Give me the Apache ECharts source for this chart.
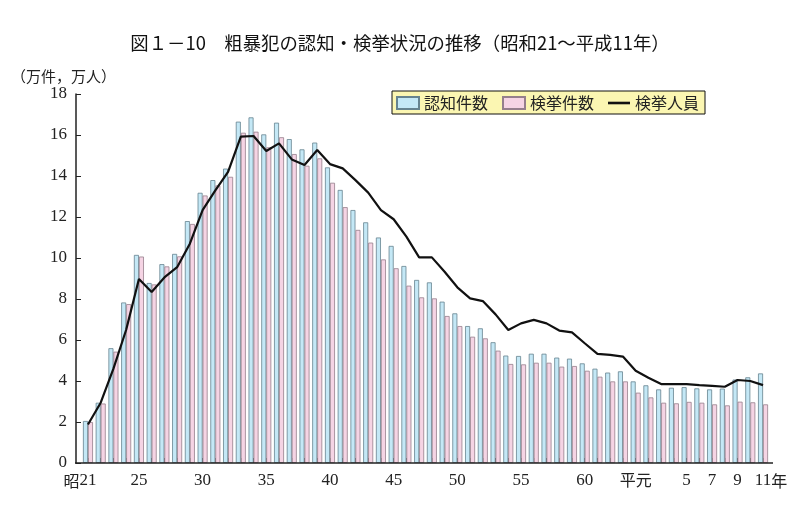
<!DOCTYPE html>
<html>
<head>
<meta charset="utf-8">
<script src="https://cdn.jsdelivr.net/npm/echarts@6/dist/echarts.min.js"></script>
<style>
html, body { margin: 0; padding: 0; background: #fff; }
#main { width: 800px; height: 518px; }
</style>
</head>
<body>
<div id="main"></div>
<script>
// 年次 (昭和21～平成11年)
const years = [
  '昭和21', '昭和22', '昭和23', '昭和24', '昭和25', '昭和26', '昭和27', '昭和28', '昭和29', '昭和30',
  '昭和31', '昭和32', '昭和33', '昭和34', '昭和35', '昭和36', '昭和37', '昭和38', '昭和39', '昭和40',
  '昭和41', '昭和42', '昭和43', '昭和44', '昭和45', '昭和46', '昭和47', '昭和48', '昭和49', '昭和50',
  '昭和51', '昭和52', '昭和53', '昭和54', '昭和55', '昭和56', '昭和57', '昭和58', '昭和59', '昭和60',
  '昭和61', '昭和62', '昭和63', '平成元', '平成2', '平成3', '平成4', '平成5', '平成6', '平成7',
  '平成8', '平成9', '平成10', '平成11'
];
// 目盛ラベル
const tickLabels = [
  '昭21', '', '', '', '25', '', '', '', '', '30',
  '', '', '', '', '35', '', '', '', '', '40',
  '', '', '', '', '45', '', '', '', '', '50',
  '', '', '', '', '55', '', '', '', '', '60',
  '', '', '', '平元', '', '', '', '5', '', '7',
  '', '9', '', '11年'
];
// 認知件数 (万件)
const ninchi = [
  2.05, 2.94, 5.6, 7.83, 10.15, 8.78, 9.7, 10.2, 11.8, 13.18,
  13.8, 14.36, 16.65, 16.86, 16.03, 16.6, 15.8, 15.3, 15.63, 14.42,
  13.32, 12.34, 11.74, 11.0, 10.59, 9.61, 8.93, 8.81, 7.87, 7.3,
  6.68, 6.57, 5.89, 5.24, 5.22, 5.33, 5.33, 5.14, 5.09, 4.86,
  4.6, 4.41, 4.47, 3.98, 3.79, 3.59, 3.67, 3.7, 3.64, 3.59,
  3.63, 4.07, 4.18, 4.37
];
// 検挙件数 (万件)
const kenkyo = [
  2.0, 2.9, 5.43, 7.75, 10.07, 8.71, 9.59, 10.08, 11.66, 13.05,
  13.54, 13.96, 16.11, 16.16, 15.4, 15.89, 15.07, 14.5, 14.86, 13.67,
  12.48, 11.37, 10.75, 9.93, 9.5, 8.65, 8.08, 8.03, 7.17, 6.68,
  6.16, 6.08, 5.48, 4.83, 4.81, 4.89, 4.89, 4.7, 4.73, 4.5,
  4.21, 3.98, 3.98, 3.43, 3.2, 2.94, 2.91, 2.98, 2.94, 2.86,
  2.81, 2.99, 2.96, 2.86
];
// 検挙人員 (万人)
const jinin = [
  1.88, 2.94, 4.6, 6.5, 8.98, 8.34, 9.05, 9.55, 10.7, 12.34,
  13.3, 14.2, 15.92, 15.95, 15.22, 15.59, 14.81, 14.54, 15.27, 14.58,
  14.37, 13.8, 13.19, 12.34, 11.89, 11.04, 10.03, 10.03, 9.33, 8.57,
  8.03, 7.9, 7.25, 6.49, 6.81, 6.98, 6.81, 6.46, 6.37, 5.84,
  5.32, 5.27, 5.19, 4.5, 4.16, 3.85, 3.85, 3.85, 3.8, 3.76,
  3.72, 4.05, 4.0, 3.8
];

const serif = "'Liberation Serif', 'DejaVu Serif', 'Noto Sans CJK JP', serif";
const gothic = "'Noto Sans CJK JP', sans-serif";

const chart = echarts.init(document.getElementById('main'));

const option = {
  animation: false,
  backgroundColor: '#fff',
  title: [
    {
      text: '図１－10　粗暴犯の認知・検挙状況の推移（昭和21～平成11年）',
      left: 'center',
      top: 29,
      textStyle: { fontFamily: gothic, fontSize: 18.4, fontWeight: 'normal', color: '#111' }
    },
    {
      text: '（万件，万人）',
      left: 6,
      top: 64,
      textStyle: { fontFamily: gothic, fontSize: 15, fontWeight: 'normal', color: '#222' }
    }
  ],
  legend: {
    left: 392,
    top: 91,
    orient: 'horizontal',
    backgroundColor: '#fbf6b2',
    borderColor: '#111',
    borderWidth: 1,
    borderRadius: 0,
    padding: [4, 6, 3, 4],
    itemWidth: 22,
    itemHeight: 12,
    itemGap: 14,
    textStyle: { fontFamily: gothic, fontSize: 16, color: '#222' },
    data: [
      { name: '認知件数', icon: 'rect' },
      { name: '検挙件数', icon: 'rect' },
      { name: '検挙人員', icon: 'path://M0,0L22,0L22,2.6L0,2.6Z' }
    ]
  },
  grid: {
    left: 81.6,
    right: 30.6,
    top: 94,
    bottom: 55,
    containLabel: false
  },
  xAxis: {
    type: 'category',
    data: years,
    axisLine: { show: false },
    axisTick: {
      show: true,
      inside: true,
      length: 5,
      interval: 0,
      alignWithLabel: true,
      lineStyle: { color: '#333', width: 1 }
    },
    axisLabel: {
      interval: 0,
      margin: 9,
      fontFamily: serif,
      fontSize: 17,
      color: '#222',
      formatter: function (value, idx) {
        const t = tickLabels[idx];
        if (!t) return '';
        if (t.charAt(0) === '昭') return '{k|昭}' + t.slice(1) + '{sp| }';
        if (t.slice(-1) === '年') return '{sp| }' + t.slice(0, -1) + '{k|年}';
        if (t === '平元') return '{k|' + t + '}';
        return t;
      },
      rich: {
        k: { fontFamily: gothic, fontSize: 16, color: '#222' },
        sp: { width: 16, fontSize: 16 }
      }
    }
  },
  yAxis: {
    type: 'value',
    min: 0,
    max: 18,
    interval: 2,
    offset: 5.6,
    axisLine: { show: true, lineStyle: { color: '#222', width: 1.5 } },
    axisTick: { show: true, inside: true, length: 5, lineStyle: { color: '#222' } },
    splitLine: { show: false },
    axisLabel: { margin: 9, fontFamily: serif, fontSize: 17, color: '#222' }
  },
  graphic: [
    {
      type: 'line',
      shape: { x1: 75, y1: 463, x2: 773, y2: 463 },
      style: { stroke: '#222', lineWidth: 1.5 },
      z: 100
    }
  ],
  series: [
    {
      name: '認知件数',
      type: 'bar',
      data: ninchi,
      barWidth: 5,
      barGap: '0%',
      itemStyle: { color: '#c4e8f6', borderColor: '#66838f', borderWidth: 0.8 }
    },
    {
      name: '検挙件数',
      type: 'bar',
      data: kenkyo,
      barWidth: 5,
      barGap: '0%',
      itemStyle: { color: '#f5d4e4', borderColor: '#957f8c', borderWidth: 0.8 }
    },
    {
      name: '検挙人員',
      type: 'line',
      data: jinin,
      symbol: 'none',
      z: 5,
      lineStyle: { color: '#111', width: 2.2 },
      itemStyle: { color: '#111' }
    }
  ]
};

chart.setOption(option);
</script>
</body>
</html>
